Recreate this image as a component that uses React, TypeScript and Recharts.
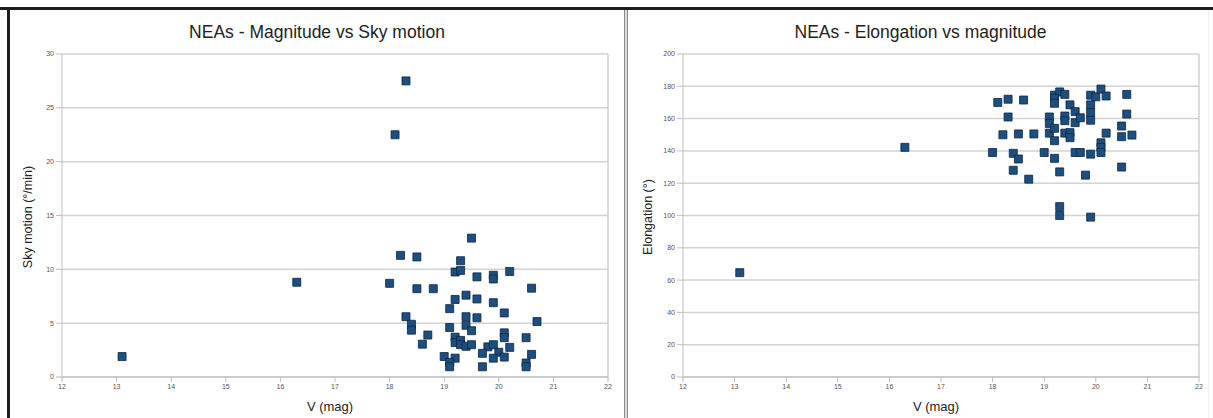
import React from 'react';
import {
  ScatterChart,
  Scatter,
  XAxis,
  YAxis,
  ZAxis,
  CartesianGrid,
  ReferenceLine,
} from 'recharts';

// left chart: V magnitude vs sky motion
const skyMag = [
  13.1, 16.3, 18.3, 18.1, 19.5, 18.2, 18.5, 19.3, 19.2, 19.3, 20.2, 19.6, 19.9, 19.9, 18.0,
  18.5, 18.8, 20.6, 19.4, 19.2, 19.6, 19.9, 19.1, 20.1, 18.3, 19.4, 19.6, 20.7, 18.4, 18.4,
  19.4, 19.5, 19.1, 18.7, 18.6, 19.2, 19.2, 19.3, 19.3, 19.4, 19.5, 20.1, 20.1, 20.5, 19.8,
  19.9, 19.7, 20.2, 20.0, 19.9, 20.1, 20.6, 19.0, 19.2, 19.1, 19.1, 19.7, 20.5, 20.5,
];
const skyMotion = [
  1.9, 8.8, 27.5, 22.5, 12.9, 11.3, 11.15, 10.8, 9.75, 9.9, 9.8, 9.3, 9.45, 9.1, 8.7,
  8.2, 8.2, 8.25, 7.6, 7.2, 7.25, 6.9, 6.35, 5.95, 5.6, 5.6, 5.5, 5.15, 4.9, 4.35,
  4.8, 4.3, 4.6, 3.9, 3.05, 3.7, 3.2, 3.4, 3.0, 2.85, 3.0, 4.1, 3.65, 3.65, 2.8,
  3.0, 2.2, 2.75, 2.3, 1.75, 1.85, 2.1, 1.9, 1.75, 1.35, 0.95, 0.95, 1.3, 0.95,
];

// right chart: V magnitude vs elongation
const elongMag = [
  13.1, 16.3, 18.1, 18.3, 18.6, 18.3, 18.2, 18.5, 18.8, 18.0, 18.4, 18.5, 18.4, 18.7, 19.0,
  19.2, 19.3, 19.4, 19.2, 19.2, 19.5, 19.6, 19.9, 20.0, 20.1, 20.2, 20.6, 19.9, 19.9, 19.9,
  19.1, 19.1, 19.1, 19.2, 19.2, 19.4, 19.4, 19.6, 19.7, 19.4, 19.5, 19.5, 19.6, 19.7, 19.9,
  20.1, 20.1, 20.1, 20.2, 20.5, 20.5, 20.7, 20.6, 20.5, 19.2, 19.3, 19.8, 19.3, 19.3, 19.9,
];
const elongation = [
  64.6, 142.2, 170, 172, 171.5, 161, 150, 150.5, 150.5, 139, 138.5, 135, 128, 122.5, 139,
  174.5, 176.5, 175, 172.5, 169.5, 168.5, 164.3, 174.5, 173.5, 178.3, 174, 175, 168.5, 163.7, 159,
  161, 157, 151, 154, 146.3, 161.6, 158.7, 157.5, 160.5, 151, 151.3, 148.2, 139, 139, 138,
  145, 142.2, 139, 151, 155.4, 148.8, 149.8, 162.8, 130, 135.4, 127, 125, 105.5, 100, 99,
];

const magTicks = [12, 13, 14, 15, 16, 17, 18, 19, 20, 21, 22];
const skyTicks = [0, 5, 10, 15, 20, 25, 30];
const elongTicks = [0, 20, 40, 60, 80, 100, 120, 140, 160, 180, 200];

const FONT = '"Liberation Sans", Arial, sans-serif';
const tickStyle = { fontSize: 7, fill: '#555', fontFamily: FONT };

type PanelProps = {
  left: number;
  width: number;
  title: string;
  yLabel: string;
  yLabelX: number;
  xs: number[];
  ys: number[];
  yMax: number;
  yTicks: number[];
  plotLeft: number;
  plotRight: number;
};

function Panel({ left, width, title, yLabel, yLabelX, xs, ys, yMax, yTicks, plotLeft, plotRight }: PanelProps) {
  const data = xs.map((x, i) => ({ x, y: ys[i] }));
  const plotCenter = (plotLeft + (width - plotRight)) / 2;
  return (
    <div style={{ position: 'absolute', left, top: 10, width, height: 408 }}>
      <div
        style={{
          position: 'absolute',
          left: 0,
          top: 12,
          width,
          textAlign: 'center',
          fontFamily: FONT,
          fontSize: 17.5,
          lineHeight: '20px',
          color: '#222',
        }}
      >
        {title}
      </div>
      <ScatterChart
        width={width}
        height={408}
        margin={{ top: 44, right: plotRight, bottom: 11, left: plotLeft - 30 }}
      >
        <CartesianGrid vertical={false} stroke="#d2d2d2" strokeWidth={1.5} />
        <XAxis
          type="number"
          dataKey="x"
          domain={[12, 22]}
          ticks={magTicks}
          interval={0}
          tickSize={5}
          height={30}
          stroke="#bdbdbd"
          tick={tickStyle}
        />
        <YAxis
          type="number"
          dataKey="y"
          domain={[0, yMax]}
          ticks={yTicks}
          interval={0}
          tickSize={6}
          width={30}
          stroke="#bdbdbd"
          tick={tickStyle}
        />
        <ZAxis range={[40, 40]} />
        <ReferenceLine x={22} stroke="#cfcfcf" strokeWidth={1.5} />
        <Scatter
          data={data}
          shape="square"
          fill="#1c4e80"
          stroke="#0e2741"
          strokeWidth={0.8}
          isAnimationActive={false}
        />
      </ScatterChart>
      <div
        style={{
          position: 'absolute',
          left: plotCenter - 5 - 60,
          top: 389,
          width: 120,
          textAlign: 'center',
          fontFamily: FONT,
          fontSize: 13,
          lineHeight: '16px',
          color: '#222',
        }}
      >
        V (mag)
      </div>
      <div
        style={{
          position: 'absolute',
          left: yLabelX,
          top: 207,
          transform: 'translate(-50%, -50%) rotate(-90deg)',
          whiteSpace: 'nowrap',
          fontFamily: FONT,
          fontSize: 12.5,
          color: '#222',
        }}
      >
        {yLabel}
      </div>
    </div>
  );
}

export default function App() {
  return (
    <div
      style={{
        position: 'absolute',
        left: 0,
        top: 0,
        width: 1213,
        height: 418,
        background: '#fff',
        overflow: 'hidden',
      }}
    >
      <div style={{ position: 'absolute', left: 0, top: 7, width: 1213, height: 3, background: '#1e1e1e' }} />
      <div style={{ position: 'absolute', left: 7, top: 7, width: 3, height: 411, background: '#1e1e1e' }} />
      <div
        style={{
          position: 'absolute',
          left: 624,
          top: 10,
          width: 2,
          height: 408,
          borderLeft: '1px solid #8a8a8a',
          borderRight: '1px solid #8a8a8a',
          background: '#dcdcdc',
        }}
      />
      <div style={{ position: 'absolute', left: 1208, top: 10, width: 1, height: 408, background: '#eeeeee' }} />
      <Panel
        left={10}
        width={614}
        title="NEAs - Magnitude vs Sky motion"
        yLabel="Sky motion (°/min)"
        yLabelX={18}
        xs={skyMag}
        ys={skyMotion}
        yMax={30}
        yTicks={skyTicks}
        plotLeft={52}
        plotRight={16}
      />
      <Panel
        left={628}
        width={585}
        title="NEAs - Elongation vs magnitude"
        yLabel="Elongation (°)"
        yLabelX={20}
        xs={elongMag}
        ys={elongation}
        yMax={200}
        yTicks={elongTicks}
        plotLeft={55}
        plotRight={14}
      />
    </div>
  );
}
